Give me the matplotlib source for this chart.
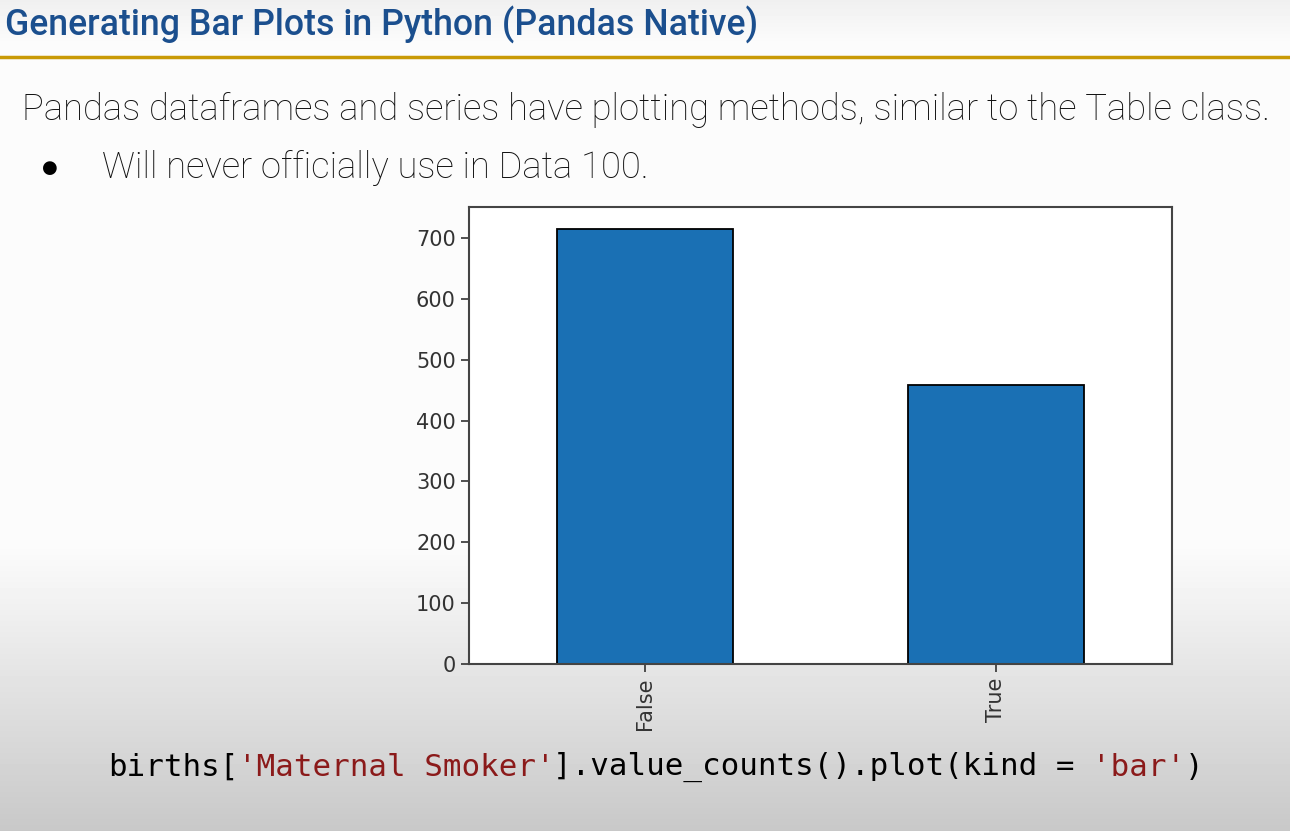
import numpy as np
import matplotlib
matplotlib.use("Agg")
import matplotlib.pyplot as plt

# value_counts of births['Maternal Smoker']
categories = ["False", "True"]
counts = [715, 459]

TITLE = "Generating Bar Plots in Python (Pandas Native)"
BODY = "Pandas dataframes and series have plotting methods, similar to the Table class."
BULLET = "Will never officially use in Data 100."
CODE = [("births[", "black"), ("'Maternal Smoker'", "#8b1a1a"),
        ("].value_counts().plot(kind = ", "black"), ("'bar'", "#8b1a1a"),
        (")", "black")]

W, H = 1290, 831
fig = plt.figure(figsize=(W / 100, H / 100), dpi=100)

# slide background: white fading to grey toward the bottom
bg = fig.add_axes([0, 0, 1, 1], zorder=-10)
rows = np.linspace(0, 1, H)
shade = np.where(rows < 0.66, 0.985, 0.985 - (rows - 0.66) / 0.34 * 0.2)
shade = np.where(rows < 0.05, 0.94 + rows / 0.05 * 0.045, shade)
img = np.repeat(np.clip(shade, 0, 1)[:, None], 4, axis=1)
bg.imshow(img, cmap="gray", vmin=0, vmax=1, aspect="auto",
          extent=[0, 1, 0, 1], origin="upper")
bg.set_axis_off()

# header
fig.text(5 / W, 1 - 25 / H, TITLE, family="Roboto", weight="medium",
         fontsize=25.7, color="#1b4f8e", va="center", ha="left")
fig.add_artist(plt.Line2D([0, 1], [1 - 57 / H] * 2, color="#c99a06", lw=2.5))

fig.text(22 / W, 1 - 110 / H, BODY, family="Roboto", weight="light",
         fontsize=26.2, color="#111111", va="center", ha="left")
fig.text(50 / W, 1 - 168 / H, "\u25CF", family="DejaVu Sans",
         fontsize=13, color="black", va="center", ha="center")
fig.text(102 / W, 1 - 168 / H, BULLET, family="Roboto", weight="light",
         fontsize=26.2, color="#111111", va="center", ha="left")

# the pandas bar plot
ax = fig.add_axes([469 / W, 1 - 664 / H, 703 / W, 457 / H])
x = np.arange(len(categories))
ax.bar(x, counts, width=0.5, color="#1a70b4", edgecolor="black", lw=1.3)
ax.set_xlim(-0.5, 1.5)
ax.set_xticks(x, categories, rotation=90)
ax.set_yticks(range(0, 701, 100))
ax.tick_params(labelsize=15, colors="#333333", length=6, width=1.2)
for s in ax.spines.values():
    s.set_color("#444444")
    s.set_linewidth(1.5)

# code line
fs = 22.2
cw = fs / 72 * 100 * 0.602
pos = 108
for seg, col in CODE:
    fig.text(pos / W, 1 - 767 / H, seg, family="DejaVu Sans Mono",
             fontsize=fs, color=col, va="center", ha="left")
    pos += len(seg) * cw

fig.savefig("out.png", dpi=100)
